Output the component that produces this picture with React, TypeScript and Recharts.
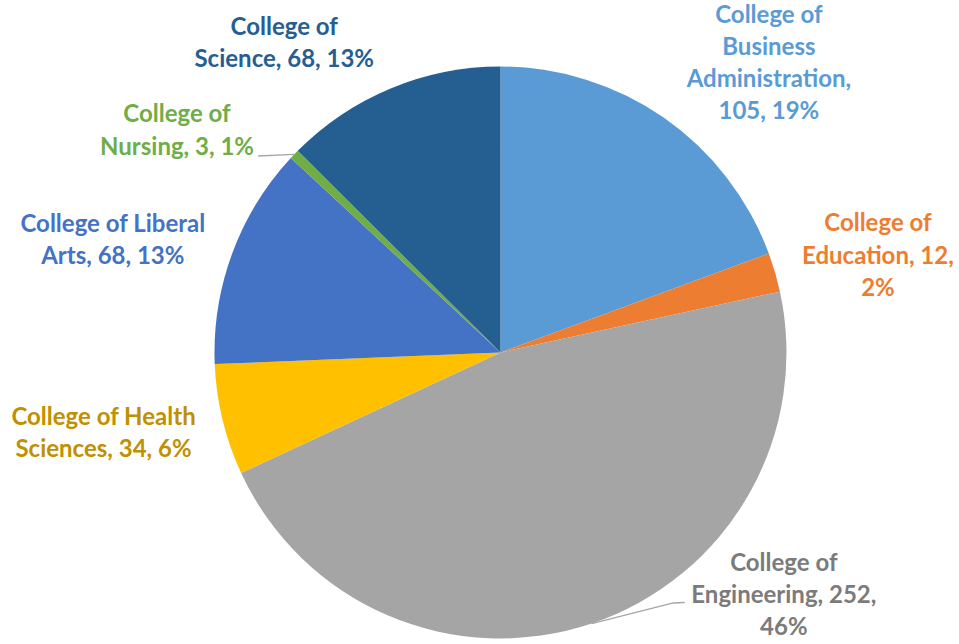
import { PieChart, Pie, Cell } from 'recharts';

// students per college
const colleges = [
  'College of Business Administration',
  'College of Education',
  'College of Engineering',
  'College of Health Sciences',
  'College of Liberal Arts',
  'College of Nursing',
  'College of Science',
];
const students = [105, 12, 252, 34, 68, 3, 68];

const sliceColors = ['#5B9BD5', '#ED7D31', '#A5A5A5', '#FFC000', '#4472C4', '#70AD47', '#255E91'];
const labelColors = ['#5B9BD5', '#ED7D31', '#7B7B7B', '#BF9000', '#4472C4', '#70AD47', '#255E91'];

// how many words go on each label line
const lineWords = [[2, 1, 1, 2], [2, 2, 1], [2, 2, 1], [3, 3], [3, 3], [2, 3], [2, 3]];

// label placement relative to the slice: angle shift (deg) and radius factor
const labelPlace = [
  { da: -7.9, k: 1.382 },
  { da: -1.8, k: 1.363 },
  { da: 30.9, k: 1.303 },
  { da: -2.2, k: 1.416 },
  { da: 4.0, k: 1.412 },
  { da: 9.3, k: 1.373 },
  { da: 12.3, k: 1.322 },
];

// leader lines (polar points after the slice edge)
const leaders: Record<number, { da: number; k: number }[]> = {
  2: [{ da: 16.0, k: 1.064 }, { da: 17.8, k: 1.086 }],
  5: [{ da: 4.8, k: 1.091 }],
};

const data = colleges.map((name, i) => ({ name, value: students[i] }));

const FONT = 24;
const LINE_H = 32.3;
const RAD = Math.PI / 180;

const polar = (cx: number, cy: number, r: number, a: number) => ({
  x: cx + r * Math.cos(a * RAD),
  y: cy - r * Math.sin(a * RAD),
});

const renderLabel = (props: any) => {
  const { cx, cy, midAngle, outerRadius, percent, value, name, index } = props;
  const words = `${name}, ${value}, ${Math.round(percent * 100)}%`.split(' ');
  const lines: string[] = [];
  let pos = 0;
  lineWords[index].forEach((n) => {
    lines.push(words.slice(pos, pos + n).join(' '));
    pos += n;
  });

  const place = labelPlace[index];
  const c = polar(cx, cy, outerRadius * place.k, midAngle + place.da);
  const y0 = c.y - ((lines.length - 1) * LINE_H) / 2 + FONT * 0.36;

  let leader = null;
  if (leaders[index]) {
    const pts = [polar(cx, cy, outerRadius, midAngle)].concat(
      leaders[index].map((p) => polar(cx, cy, outerRadius * p.k, midAngle + p.da))
    );
    leader = (
      <polyline
        points={pts.map((p) => `${p.x},${p.y}`).join(' ')}
        fill="none"
        stroke="#A6A6A6"
        strokeWidth={1.3}
      />
    );
  }

  return (
    <g key={`lbl-${index}`}>
      {leader}
      <text
        x={c.x}
        y={y0}
        textAnchor="middle"
        fill={labelColors[index]}
        fontSize={FONT}
        fontWeight="bold"
        fontFamily="Lato, 'Open Sans', sans-serif"
      >
        {lines.map((l, i) => (
          <tspan key={i} x={c.x} dy={i === 0 ? 0 : LINE_H}>
            {l}
          </tspan>
        ))}
      </text>
    </g>
  );
};

export default function App() {
  return (
    <div style={{ position: 'absolute', left: 0, top: 0, width: 959, height: 644, background: '#fff' }}>
      <style>{`.recharts-pie-sectors{filter:drop-shadow(2px 3px 3px rgba(0,0,0,0.28));}`}</style>
      <PieChart width={959} height={644} margin={{ top: 0, right: 0, bottom: 0, left: 0 }}>
        <Pie
          data={data}
          dataKey="value"
          nameKey="name"
          cx={500.5}
          cy={352.5}
          outerRadius={286}
          startAngle={90}
          endAngle={-270}
          stroke="none"
          label={renderLabel}
          labelLine={false}
          isAnimationActive={false}
        >
          {data.map((d, i) => (
            <Cell key={d.name} fill={sliceColors[i]} />
          ))}
        </Pie>
      </PieChart>
    </div>
  );
}
